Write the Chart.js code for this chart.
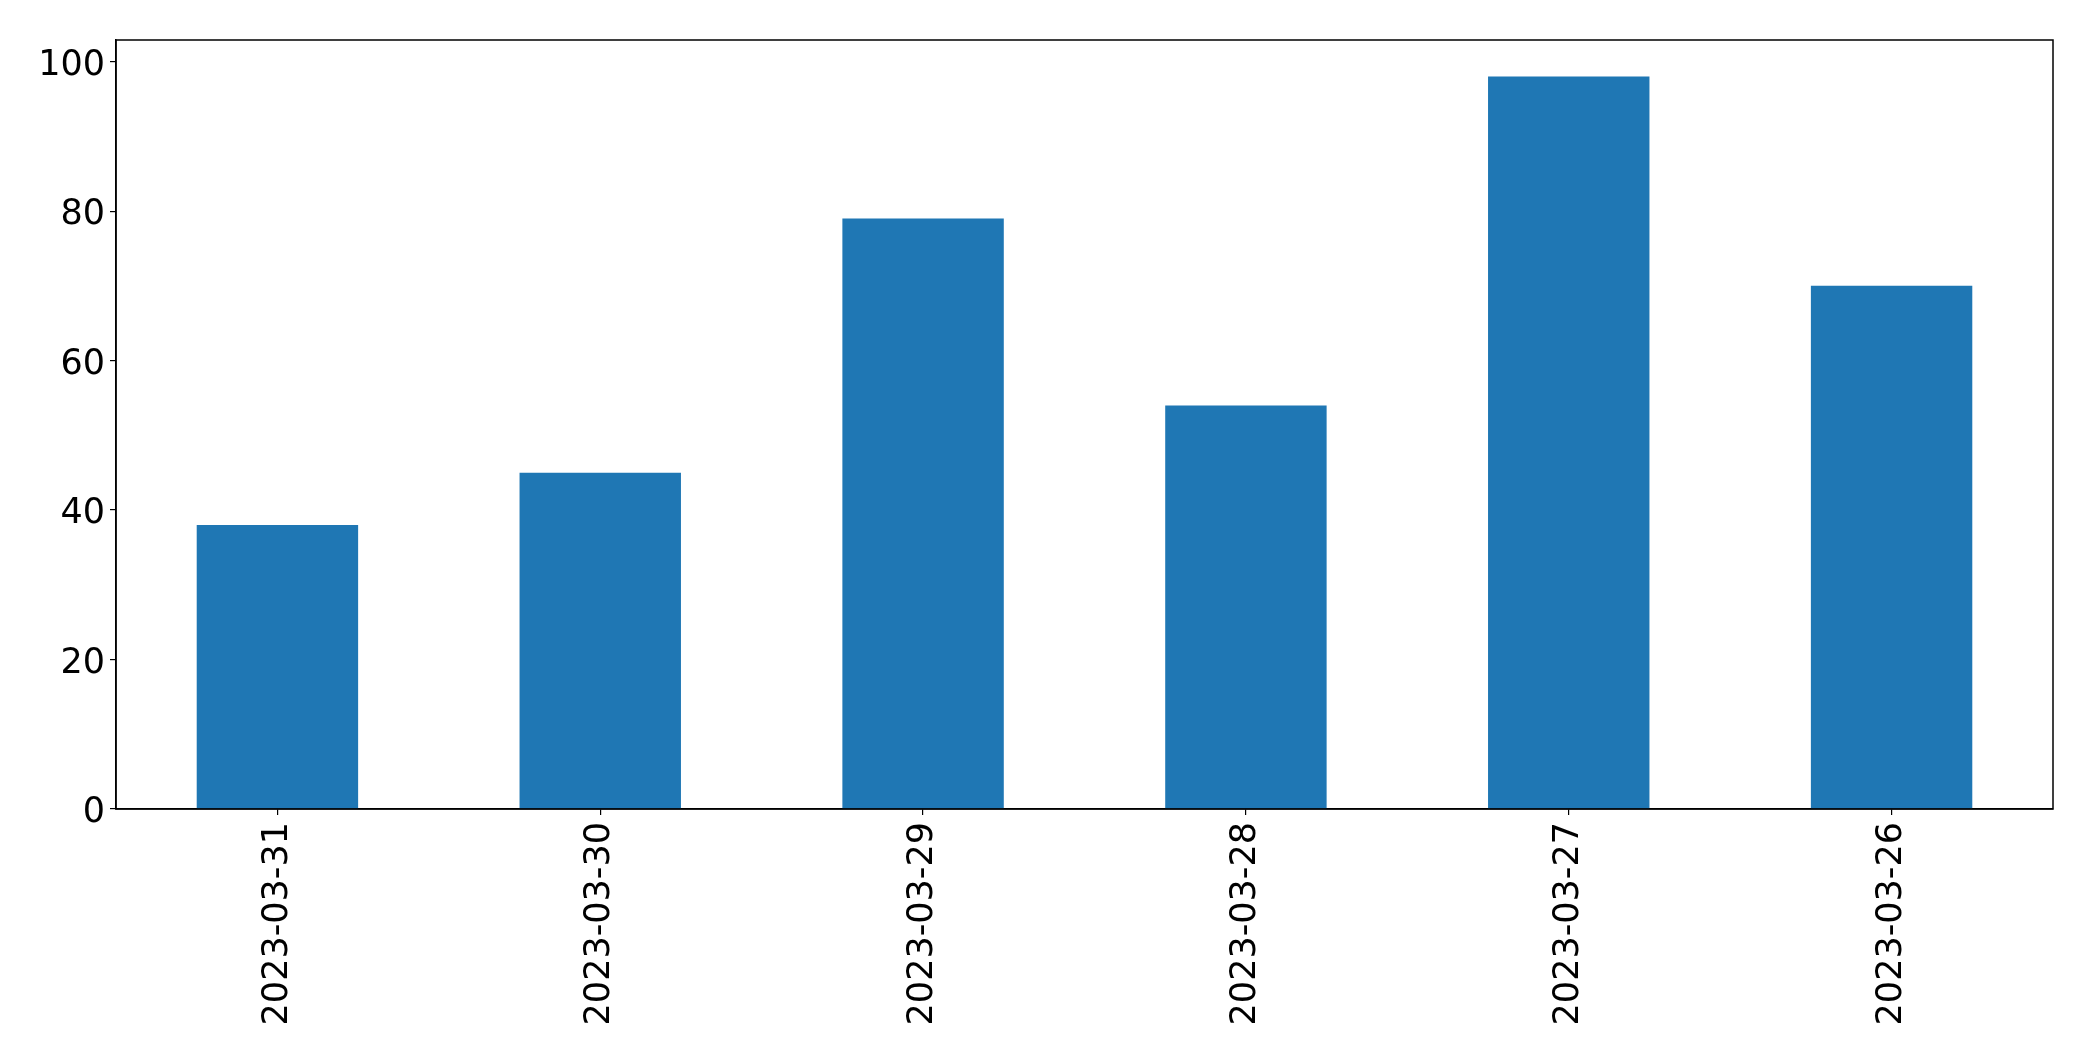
<!DOCTYPE html>
<html>
<head>
<meta charset="utf-8">
<script src="https://cdn.jsdelivr.net/npm/chart.js@4/dist/chart.umd.min.js"></script>
<style>
  html, body { margin: 0; padding: 0; background: #fff; }
  canvas { display: block; }
</style>
</head>
<body>
<canvas id="chart" width="2093" height="1061"></canvas>
<script>
const dates = ['2023-03-31', '2023-03-30', '2023-03-29', '2023-03-28', '2023-03-27', '2023-03-26'];
const values = [38, 45, 79, 54, 98, 70];
const yTicks = [0, 20, 40, 60, 80, 100];

const yMax = Math.max(...values) * 1.05;
const font = { family: 'DejaVu Sans', size: 35 };

// matplotlib-style box around the plot area
const frame = {
  id: 'frame',
  afterDraw(chart) {
    const { ctx, chartArea: a } = chart;
    ctx.save();
    ctx.strokeStyle = '#000';
    ctx.lineWidth = 1.5;
    ctx.strokeRect(a.left, a.top, a.right - a.left, a.bottom - a.top);
    ctx.restore();
  }
};

new Chart(document.getElementById('chart'), {
  type: 'bar',
  data: {
    labels: dates,
    datasets: [{
      data: values,
      backgroundColor: '#1f77b4',
      barPercentage: 0.5,
      categoryPercentage: 1.0
    }]
  },
  options: {
    responsive: false,
    animation: false,
    layout: { padding: { top: 40, right: 40, left: 0, bottom: 0 } },
    plugins: { legend: { display: false }, tooltip: { enabled: false } },
    scales: {
      x: {
        grid: { display: true, drawOnChartArea: false, offset: false, tickLength: 6, color: '#000', lineWidth: 1.2 },
        border: { display: true, color: '#000', width: 1.5 },
        ticks: { color: '#000', font, minRotation: 90, maxRotation: 90, padding: 7, autoSkip: false },
        afterFit(scale) { scale.height = 252; }
      },
      y: {
        min: 0,
        max: yMax,
        grid: { display: true, drawOnChartArea: false, tickLength: 6, color: '#000', lineWidth: 1.2 },
        border: { display: true, color: '#000', width: 1.5 },
        ticks: { color: '#000', font, stepSize: 20, includeBounds: false, padding: 5, labelOffset: 4 },
        afterBuildTicks(scale) { scale.ticks = yTicks.map(v => ({ value: v })); },
        afterFit(scale) { scale.width = 116; }
      }
    }
  },
  plugins: [frame]
});
</script>
</body>
</html>
